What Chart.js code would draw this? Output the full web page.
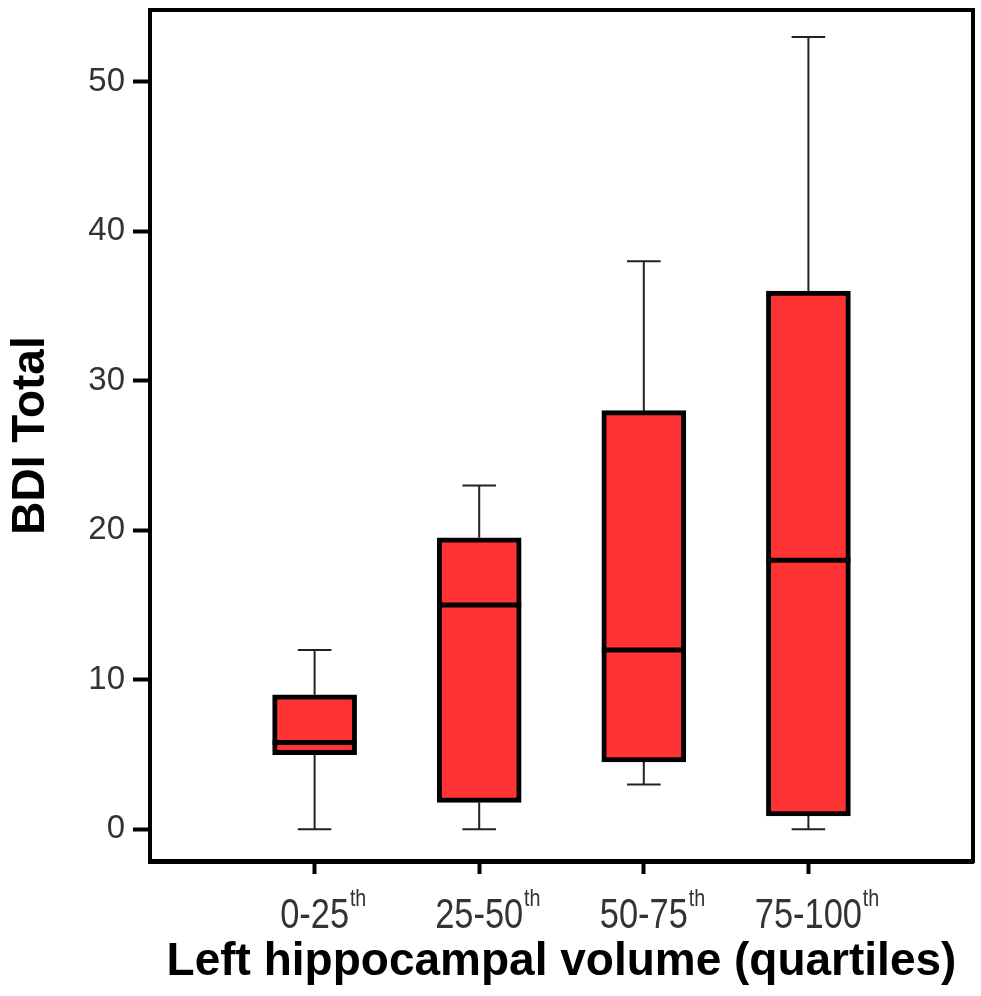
<!DOCTYPE html>
<html>
<head>
<meta charset="utf-8">
<script src="https://cdn.jsdelivr.net/npm/chart.js@4/dist/chart.umd.min.js"></script>
<style>
  html, body { margin: 0; padding: 0; background: #fff; }
  #wrap { width: 981px; height: 996px; }
</style>
</head>
<body>
<div id="wrap"><canvas id="boxChart"></canvas></div>
<script>
// Quartile groups and box plot statistics (BDI Total)
const quartiles = ['0-25', '25-50', '50-75', '75-100'];
const suffix = 'th';
const whiskerLow = [0, 0, 3, 0];
const q1 = [5, 1.8, 4.5, 0.9];
const medians = [5.8, 15, 12, 18];
const q3 = [9, 19.5, 28, 36];
const whiskerHigh = [12, 23, 38, 53];

const yTicks = [0, 10, 20, 30, 40, 50];
const yTitle = 'BDI Total';
const xTitle = 'Left hippocampal volume (quartiles)';

// one empty slot on each side so the groups sit at 1..4 of a 0..5 axis
const labels = [''].concat(quartiles, ['']);
const boxes = [null].concat(quartiles.map((q, i) => [q1[i], q3[i]]), [null]);

const FONT = '"Liberation Sans", Arial, sans-serif';

// whiskers, medians, frame and superscripted category labels
const boxPlotExtras = {
    id: 'boxPlotExtras',
    beforeDatasetsDraw(chart) {
        const ctx = chart.ctx;
        const y = chart.scales.y;
        const meta = chart.getDatasetMeta(0);
        ctx.save();
        ctx.strokeStyle = '#222';
        ctx.lineWidth = 2;
        quartiles.forEach((q, i) => {
            const bar = meta.data[i + 1];
            const cx = bar.x;
            const cap = bar.width * 0.2;
            ctx.beginPath();
            ctx.moveTo(cx, y.getPixelForValue(q3[i]));
            ctx.lineTo(cx, y.getPixelForValue(whiskerHigh[i]));
            ctx.moveTo(cx - cap, y.getPixelForValue(whiskerHigh[i]));
            ctx.lineTo(cx + cap, y.getPixelForValue(whiskerHigh[i]));
            ctx.moveTo(cx, y.getPixelForValue(q1[i]));
            ctx.lineTo(cx, y.getPixelForValue(whiskerLow[i]));
            ctx.moveTo(cx - cap, y.getPixelForValue(whiskerLow[i]));
            ctx.lineTo(cx + cap, y.getPixelForValue(whiskerLow[i]));
            ctx.stroke();
        });
        ctx.restore();
    },
    afterDatasetsDraw(chart) {
        const ctx = chart.ctx;
        const y = chart.scales.y;
        const meta = chart.getDatasetMeta(0);
        ctx.save();
        ctx.strokeStyle = '#000';
        ctx.lineWidth = 5;
        quartiles.forEach((q, i) => {
            const bar = meta.data[i + 1];
            const py = y.getPixelForValue(medians[i]);
            ctx.beginPath();
            ctx.moveTo(bar.x - bar.width / 2, py);
            ctx.lineTo(bar.x + bar.width / 2, py);
            ctx.stroke();
        });
        ctx.restore();
    },
    afterDraw(chart) {
        const ctx = chart.ctx;
        const a = chart.chartArea;
        const x = chart.scales.x;
        ctx.save();
        ctx.strokeStyle = '#000';
        ctx.lineWidth = 4;
        ctx.strokeRect(a.left, a.top, a.right - a.left, a.bottom - a.top);

        // category labels with a raised "th", condensed like the original
        ctx.fillStyle = '#333';
        ctx.textBaseline = 'alphabetic';
        ctx.textAlign = 'left';
        const squeeze = 0.82;
        quartiles.forEach((q, i) => {
            const cx = x.getPixelForValue(i + 1);
            ctx.save();
            ctx.translate(cx, 0);
            ctx.scale(squeeze, 1);
            ctx.font = '42px ' + FONT;
            const w = ctx.measureText(q).width;
            ctx.fillText(q, -w / 2, 928);
            ctx.font = '24px ' + FONT;
            ctx.fillText(suffix, w / 2 + 1, 906);
            ctx.restore();
        });
        ctx.restore();
    }
};

const ctx = document.getElementById('boxChart').getContext('2d');
new Chart(ctx, {
    type: 'bar',
    data: {
        labels: labels,
        datasets: [{
            data: boxes,
            backgroundColor: '#ff3333',
            borderColor: '#000',
            borderWidth: 5,
            borderSkipped: false,
            barThickness: 84
        }]
    },
    options: {
        responsive: true,
        maintainAspectRatio: false,
        animation: false,
        layout: { padding: { top: 10, right: 8, left: 0, bottom: 0 } },
        plugins: {
            legend: { display: false },
            tooltip: { enabled: false }
        },
        scales: {
            x: {
                offset: false,
                afterFit: s => { s.height = 135; s.paddingLeft = 0; s.paddingRight = 0; },
                grid: {
                    offset: false,
                    drawOnChartArea: false,
                    drawTicks: true,
                    tickLength: 13,
                    tickWidth: 4,
                    tickColor: c => (c.index === 0 || c.index === labels.length - 1) ? 'rgba(0,0,0,0)' : '#000'
                },
                border: { display: true, color: '#000', width: 5 },
                ticks: { display: false },
                title: {
                    display: true,
                    text: xTitle,
                    color: '#000',
                    font: { family: FONT, size: 46, weight: 'bold' },
                    padding: { top: 0, bottom: 6 }
                }
            },
            y: {
                min: -2.12,
                max: 54.8,
                afterFit: s => { s.width = 150; s.paddingTop = 0; s.paddingBottom = 0; },
                afterBuildTicks: s => { s.ticks = yTicks.map(v => ({ value: v })); },
                grid: {
                    drawOnChartArea: false,
                    tickLength: 17,
                    tickWidth: 4,
                    tickColor: '#000'
                },
                border: { display: true, color: '#000', width: 4 },
                ticks: {
                    color: '#333',
                    padding: 8,
                    font: { family: FONT, size: 33 }
                },
                title: {
                    display: true,
                    text: yTitle,
                    color: '#000',
                    font: { family: FONT, size: 46, weight: 'bold' },
                    padding: { top: 4, bottom: 0 }
                }
            }
        }
    },
    plugins: [boxPlotExtras]
});
</script>
</body>
</html>
